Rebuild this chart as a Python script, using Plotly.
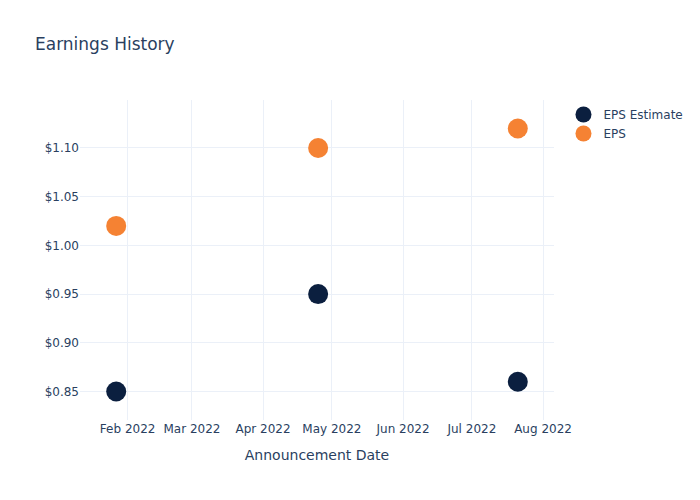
import plotly.graph_objects as go

dates = ["2022-01-27", "2022-04-25", "2022-07-21"]
eps_estimate = [0.85, 0.95, 0.86]
eps_actual = [1.02, 1.10, 1.12]

fig = go.Figure()
fig.add_trace(go.Scatter(x=dates, y=eps_estimate, mode="markers", name="EPS Estimate",
                         marker=dict(color="#0b1f3f", size=20)))
fig.add_trace(go.Scatter(x=dates, y=eps_actual, mode="markers", name="EPS",
                         marker=dict(color="#f58233", size=20)))
fig.update_layout(
    template="plotly_white",
    width=700, height=500,
    title=dict(text="Earnings History"),
    font=dict(family="DejaVu Sans"),
    xaxis=dict(title=dict(text="Announcement Date"), tickformat="%b %Y"),
    yaxis=dict(tickprefix="$", tickformat=".2f"),
)
fig.write_html("out.html")
